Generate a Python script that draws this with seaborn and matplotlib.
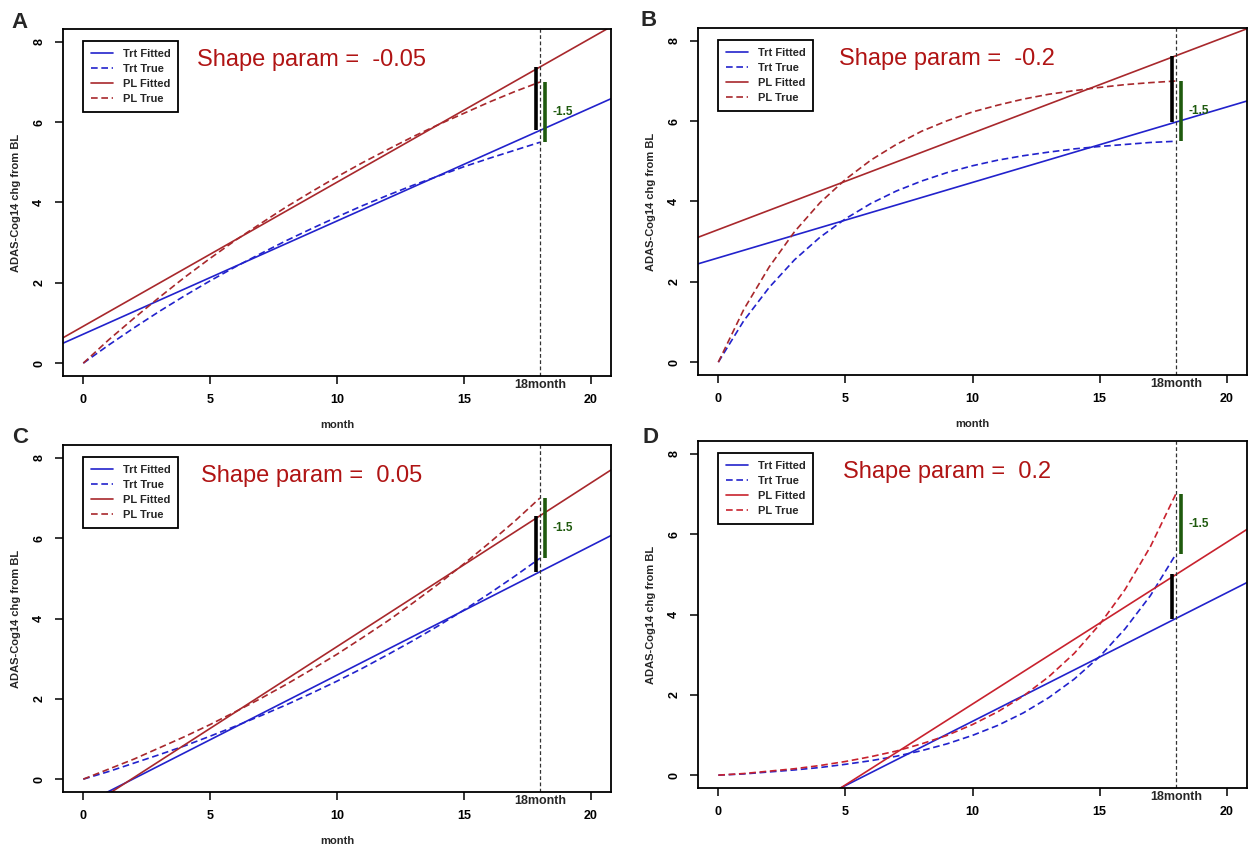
"""
Four panels: fitted vs true ADAS-Cog14 trajectories for different shape params.
"""
import matplotlib
matplotlib.use("Agg")
import matplotlib.pyplot as plt
import seaborn as sns
import pandas as pd
import numpy as np

# ---- data ----
months = list(range(19))  # 0 .. 18
fit_months = [-1, 21]      # fitted lines run past both edges of the plot

panel_letters = ["A", "B", "C", "D"]
shape_params = ["-0.05", "-0.2", "0.05", "0.2"]

trt_true_a = [0, 0.45, 0.88, 1.29, 1.68, 2.05, 2.40, 2.73, 3.05, 3.35, 3.64,
              3.92, 4.18, 4.43, 4.66, 4.89, 5.10, 5.30, 5.50]
pl_true_a = [0, 0.58, 1.12, 1.64, 2.14, 2.61, 3.06, 3.48, 3.89, 4.27, 4.64,
             4.99, 5.32, 5.64, 5.94, 6.22, 6.50, 6.76, 7.00]
trt_fit_a = [0.44, 6.64]
pl_fit_a = [0.56, 8.45]

trt_true_b = [0, 1.03, 1.86, 2.55, 3.11, 3.57, 3.95, 4.26, 4.51, 4.72, 4.89,
              5.03, 5.14, 5.23, 5.31, 5.37, 5.42, 5.47, 5.50]
pl_true_b = [0, 1.31, 2.37, 3.25, 3.97, 4.55, 5.03, 5.42, 5.75, 6.01, 6.23,
             6.40, 6.55, 6.67, 6.76, 6.84, 6.91, 6.96, 7.00]
trt_fit_b = [2.41, 6.54]
pl_fit_b = [3.06, 8.35]

trt_true_c = [0, 0.19, 0.40, 0.61, 0.83, 1.07, 1.32, 1.58, 1.85, 2.14, 2.44,
              2.76, 3.10, 3.45, 3.82, 4.21, 4.62, 5.05, 5.50]
pl_true_c = [0, 0.25, 0.50, 0.78, 1.06, 1.36, 1.68, 2.01, 2.36, 2.73, 3.11,
             3.52, 3.94, 4.39, 4.86, 5.36, 5.88, 6.42, 7.00]
trt_fit_c = [-0.95, 6.13]
pl_fit_c = [-1.18, 7.78]

trt_true_d = [0, 0.03, 0.08, 0.13, 0.19, 0.27, 0.36, 0.47, 0.61, 0.78, 0.99,
              1.24, 1.55, 1.93, 2.39, 2.95, 3.64, 4.47, 5.50]
pl_true_d = [0, 0.04, 0.10, 0.16, 0.24, 0.34, 0.46, 0.60, 0.78, 0.99, 1.26,
             1.58, 1.97, 2.45, 3.03, 3.75, 4.62, 5.69, 7.00]
trt_fit_d = [-2.18, 4.86]
pl_fit_d = [-2.66, 6.20]

# difference bars at month 18: fitted (black) and true (green)
fitted_gap = [[5.80, 7.38], [5.98, 7.63], [5.16, 6.56], [3.90, 5.00]]
true_gap = [[5.50, 7.00], [5.50, 7.00], [5.50, 7.00], [5.50, 7.00]]
gap_label = "-1.5"

series_order = ["Trt Fitted", "Trt True", "PL Fitted", "PL True"]

BLUE = "#2222cc"
PL_COLORS = ["#a8282c", "#a8282c", "#a8282c", "#c8222e"]
TITLE_RED = "#b01414"
GREEN = "#1f5a0e"

sns.set_style("ticks")
plt.rcParams["font.family"] = ["Liberation Sans", "DejaVu Sans"]

fig = plt.figure(figsize=(12.5, 8.46), dpi=100)
W, H = 1250, 846
# axes boxes in pixels: left, top, right, bottom
boxes = [(63, 29, 611, 376), (698, 28, 1247, 375),
         (63, 445, 611, 792), (698, 441, 1247, 788)]
letter_pos = [(20, 22), (649, 20), (20, 437), (650, 437)]

panels = [
    (trt_true_a, pl_true_a, trt_fit_a, pl_fit_a),
    (trt_true_b, pl_true_b, trt_fit_b, pl_fit_b),
    (trt_true_c, pl_true_c, trt_fit_c, pl_fit_c),
    (trt_true_d, pl_true_d, trt_fit_d, pl_fit_d),
]

for i, (trt_true, pl_true, trt_fit, pl_fit) in enumerate(panels):
    l, t, r, b = boxes[i]
    ax = fig.add_axes([l / W, 1 - b / H, (r - l) / W, (b - t) / H])

    df = pd.concat([
        pd.DataFrame({"month": fit_months, "chg": trt_fit, "series": "Trt Fitted"}),
        pd.DataFrame({"month": months, "chg": trt_true, "series": "Trt True"}),
        pd.DataFrame({"month": fit_months, "chg": pl_fit, "series": "PL Fitted"}),
        pd.DataFrame({"month": months, "chg": pl_true, "series": "PL True"}),
    ], ignore_index=True)

    palette = {"Trt Fitted": BLUE, "Trt True": BLUE,
               "PL Fitted": PL_COLORS[i], "PL True": PL_COLORS[i]}
    dashes = {"Trt Fitted": "", "Trt True": (4, 2.2),
              "PL Fitted": "", "PL True": (4, 2.2)}
    sns.lineplot(data=df, x="month", y="chg", hue="series", style="series",
                 hue_order=series_order, style_order=series_order,
                 palette=palette, dashes=dashes, estimator=None, sort=False,
                 lw=1.2, ax=ax)

    ax.set_xlim(-0.8, 20.8)
    ax.set_ylim(-0.32, 8.32)

    # month 18 marker and difference bars
    ax.axvline(18, color="#333333", lw=0.9, ls=(0, (3, 2)))
    ax.plot([17.85, 17.85], fitted_gap[i], color="black", lw=2.6,
            solid_capstyle="butt")
    ax.plot([18.2, 18.2], true_gap[i], color=GREEN, lw=2.6,
            solid_capstyle="butt")
    ax.text(18.5, np.mean(true_gap[i]), gap_label, color=GREEN, fontsize=8.5,
            fontweight="bold", va="center", ha="left")

    ax.text(9, 7.55, "Shape param =  " + shape_params[i], color=TITLE_RED,
            fontsize=17, ha="center", va="center")

    # legend
    handles, labels = ax.get_legend_handles_labels()
    keep = [(h, lab) for h, lab in zip(handles, labels) if lab in series_order]
    leg = ax.legend([h for h, _ in keep], [lab for _, lab in keep],
                    loc="upper left", bbox_to_anchor=(0.036, 0.965),
                    borderaxespad=0, fancybox=False, framealpha=1,
                    edgecolor="black", handlelength=2.0, handletextpad=0.9,
                    labelspacing=0.45, borderpad=0.7,
                    prop={"size": 8, "weight": "bold"})
    leg.get_frame().set_linewidth(1.3)

    # R-style axes
    for sp in ax.spines.values():
        sp.set_visible(True)
        sp.set_linewidth(1.3)
        sp.set_color("black")
    ax.set_xticks([0, 5, 10, 15, 20])
    ax.set_yticks([0, 2, 4, 6, 8])
    ax.tick_params(direction="out", length=5.8, width=1.1, pad=7,
                   labelsize=9, colors="black")
    for lab in ax.get_xticklabels():
        lab.set_fontweight("bold")
    for lab in ax.get_yticklabels():
        lab.set_fontweight("bold")
        lab.set_rotation(90)
        lab.set_va("center")
    ax.annotate("18month", xy=(18, 0), xycoords=("data", "axes fraction"),
                xytext=(0, -2), textcoords="offset points", ha="center",
                va="top", fontsize=9, fontweight="bold")

    ax.set_ylabel("ADAS-Cog14 chg from BL", fontsize=8, fontweight="bold")
    ax.yaxis.set_label_coords(-42 / (r - l), 0.5)
    if i != 3:
        ax.set_xlabel("month", fontsize=8, fontweight="bold")
        ax.xaxis.set_label_coords(0.5, -44 / (b - t))
    else:
        ax.set_xlabel("")

    lx, ly = letter_pos[i]
    fig.text(lx / W, 1 - ly / H, panel_letters[i], fontsize=16,
             fontweight="bold", ha="center", va="center")

fig.savefig("out.png", dpi=100)
